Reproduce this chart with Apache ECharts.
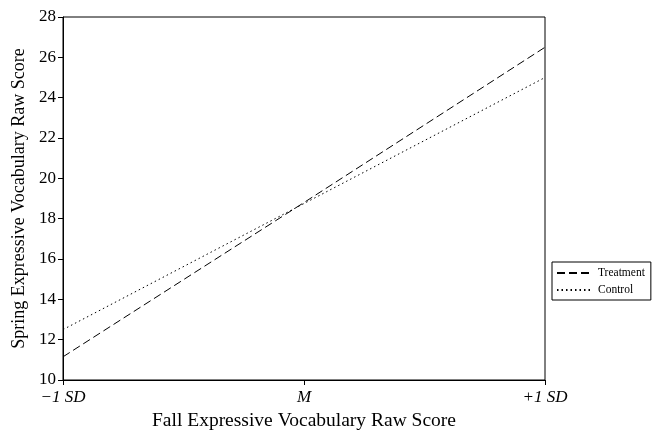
<!DOCTYPE html>
<html><head><meta charset="utf-8">
<script src="https://cdn.jsdelivr.net/npm/echarts@6/dist/echarts.min.js"></script>
<style>html,body{margin:0;padding:0;background:#fff}#c{width:654px;height:430px}</style>
</head><body><div id="c"></div>
<script>
const categories = ['\u22121 SD', 'M', '+1 SD'];
const treatment = [11.15, 18.8, 26.5];
const control = [12.5, 18.75, 25.0];
const yMin = 10, yMax = 28, yStep = 2;
const font = '"Liberation Serif", "Times New Roman", serif';
const chart = echarts.init(document.getElementById('c'), null, {renderer: 'canvas'});
chart.setOption({
  animation: false,
  backgroundColor: '#fff',
  textStyle: {fontFamily: font, color: '#000'},
  grid: {left: 63, right: 109, top: 17, bottom: 50, show: true, borderColor: '#000', borderWidth: 1,
         containLabel: false, outerBoundsMode: 'none'},
  legend: {
    orient: 'vertical', left: 552, top: 262, padding: [5, 6, 4, 4],
    borderColor: '#000', borderWidth: 1, itemWidth: 36, itemHeight: 10, itemGap: 5,
    itemStyle: {opacity: 0},
    textStyle: {fontFamily: font, fontSize: 11.5, color: '#000'},
    data: [{name: 'Treatment'}, {name: 'Control'}]
  },
  xAxis: {
    type: 'category', data: categories, boundaryGap: false,
    name: 'Fall Expressive Vocabulary Raw Score', nameLocation: 'middle', nameGap: 27,
    nameTextStyle: {fontFamily: font, fontSize: 19.5, color: '#000'},
    axisLine: {lineStyle: {color: '#000', width: 1}},
    axisTick: {show: true, length: 5, alignWithLabel: true, lineStyle: {color: '#000'}},
    axisLabel: {fontFamily: font, fontSize: 17, fontStyle: 'italic', color: '#000', margin: 9},
    splitLine: {show: false}
  },
  yAxis: {
    type: 'value', min: yMin, max: yMax, interval: yStep,
    name: 'Spring Expressive Vocabulary Raw Score', nameLocation: 'middle', nameGap: 35,
    nameTextStyle: {fontFamily: font, fontSize: 18, color: '#000'},
    axisLine: {show: true, lineStyle: {color: '#000', width: 1}},
    axisTick: {show: true, length: 5, lineStyle: {color: '#000'}},
    axisLabel: {fontFamily: font, fontSize: 17, color: '#000', margin: 7},
    splitLine: {show: false}
  },
  series: [
    {name: 'Treatment', type: 'line', data: treatment, symbol: 'none', silent: true,
     itemStyle: {color: '#000'},
     lineStyle: {color: '#000', width: 1, type: [8, 4]}},
    {name: 'Control', type: 'line', data: control, symbol: 'none', silent: true,
     itemStyle: {color: '#000'},
     lineStyle: {color: '#000', width: 1, type: [1.5, 3]}}
  ]
});
</script></body></html>
